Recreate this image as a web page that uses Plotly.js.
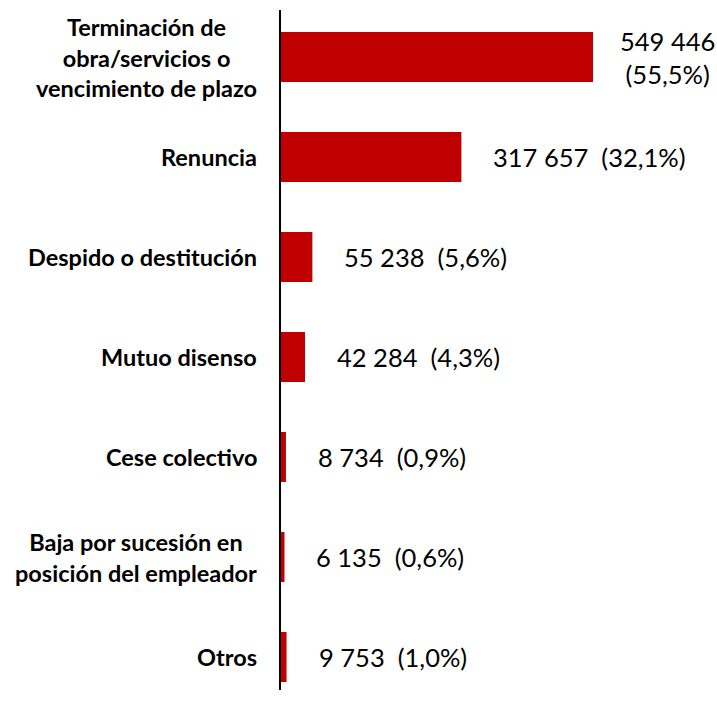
<!DOCTYPE html>
<html>
<head>
<meta charset="utf-8">
<script src="https://cdn.plot.ly/plotly-3.0.1.min.js"></script>
<style>html,body{margin:0;padding:0;background:#fff;}#chart{width:717px;height:702px;}</style>
</head>
<body>
<div id="chart"></div>
<script>
const categories = [
  "Terminación de<br>obra/servicios o<br>vencimiento de plazo",
  "Renuncia",
  "Despido o destitución",
  "Mutuo disenso",
  "Cese colectivo",
  "Baja por sucesión en<br>posición del empleador",
  "Otros"
];
const values = [549446, 317657, 55238, 42284, 8734, 6135, 9753];
const valueLabels = ["549 446", "317 657", "55 238", "42 284", "8 734", "6 135", "9 753"];
const percentLabels = ["(55,5%)", "(32,1%)", "(5,6%)", "(4,3%)", "(0,9%)", "(0,6%)", "(1,0%)"];

const FONT = "Lato, 'Open Sans', sans-serif";
const ids = categories.map((c, i) => i);

const annotations = [];
categories.forEach((c, i) => {
  annotations.push({
    xref: 'paper', x: 0, yref: 'y', y: i,
    xanchor: 'right', yanchor: 'middle', xshift: -22,
    text: '<b>' + c + '</b>', showarrow: false, align: 'center',
    font: {family: FONT, size: 23.5, color: '#000'}
  });
  const first = i === 0;
  annotations.push({
    xref: 'x', x: values[i], yref: 'y', y: i,
    xanchor: 'left', yanchor: 'middle', xshift: first ? 25 : 30,
    text: first ? valueLabels[i] + '<br>' + percentLabels[i]
                : valueLabels[i] + '\u00a0\u00a0' + percentLabels[i],
    showarrow: false, align: 'center',
    font: {family: FONT, size: 25.5, color: '#000'}
  });
});

const trace = {
  type: 'bar', orientation: 'h',
  x: values, y: ids,
  width: 0.5,
  marker: {color: '#C00000'},
  hoverinfo: 'none'
};

const layout = {
  width: 717, height: 702,
  margin: {l: 281, r: 0, t: 10, b: 12},
  paper_bgcolor: '#fff', plot_bgcolor: '#fff',
  showlegend: false,
  xaxis: {range: [0, 767813], visible: false, showgrid: false, zeroline: false},
  yaxis: {range: [6.33, -0.47], showgrid: false, zeroline: false, showticklabels: false,
          ticks: '', showline: true, linecolor: '#000', linewidth: 2},
  annotations: annotations
};

Plotly.newPlot('chart', [trace], layout, {displayModeBar: false, staticPlot: true});
</script>
</body>
</html>
